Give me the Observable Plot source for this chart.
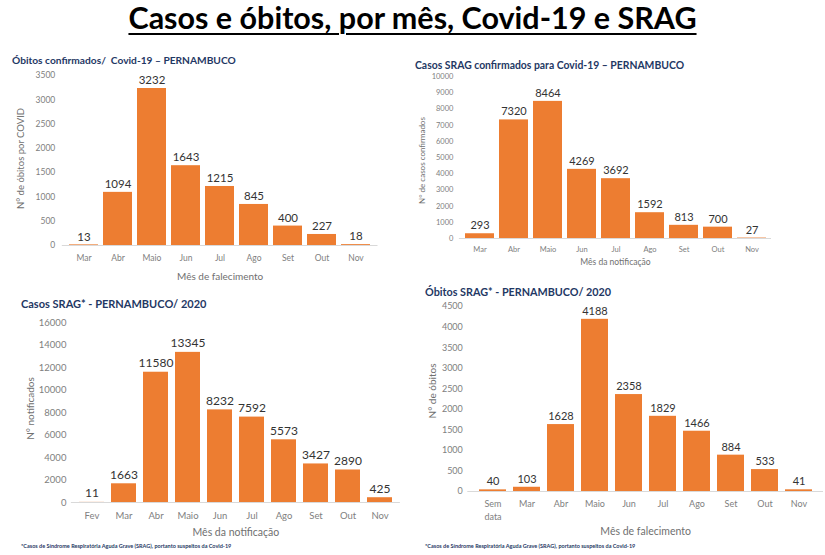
<!DOCTYPE html>
<html><head><meta charset="utf-8">
<script src="https://cdn.jsdelivr.net/npm/d3@7"></script>
<script src="https://cdn.jsdelivr.net/npm/@observablehq/plot@0.6"></script>
<style>
body{margin:0;background:#fff;font-family:Lato,"Open Sans",sans-serif;}
#page{position:relative;width:825px;height:555px;overflow:hidden;background:#fff;}
.box{position:absolute;}
.ptitle{position:absolute;font-weight:bold;color:#1F3864;white-space:nowrap;line-height:1;}
.foot{position:absolute;font-weight:bold;color:#1F3864;white-space:nowrap;font-size:5.5px;line-height:1;}
#main{position:absolute;left:0;width:825px;top:1px;text-align:center;font-weight:bold;font-size:30.5px;color:#000;text-decoration:underline;text-decoration-thickness:2px;text-underline-offset:4px;line-height:1.1;}
</style></head><body>
<div id="page">
  <div id="main">Casos e óbitos, por mês, Covid-19 e SRAG</div>
  <div class="ptitle" style="left:12px;top:55px;font-size:10.2px;">Óbitos confirmados/&nbsp; Covid-19 – PERNAMBUCO</div>
  <div class="ptitle" style="left:415px;top:60px;font-size:10.4px;">Casos SRAG confirmados para Covid-19 – PERNAMBUCO</div>
  <div class="ptitle" style="left:21px;top:298px;font-size:11px;">Casos SRAG* - PERNAMBUCO/ 2020</div>
  <div class="ptitle" style="left:425px;top:287px;font-size:10.8px;">Óbitos SRAG* - PERNAMBUCO/ 2020</div>
  <div class="foot" style="left:21px;top:544px;">*Casos de Síndrome Respiratória Aguda Grave (SRAG), portanto suspeitos da Covid-19</div>
  <div class="foot" style="left:425px;top:544px;">*Casos de Síndrome Respiratória Aguda Grave (SRAG), portanto suspeitos da Covid-19</div>
  <div class="box" id="c1" style="left:0;top:65px;"></div>
  <div class="box" id="c2" style="left:400px;top:70px;"></div>
  <div class="box" id="c3" style="left:0;top:310px;"></div>
  <div class="box" id="c4" style="left:400px;top:300px;"></div>
</div>
<script>
const months1 = ["Mar","Abr","Maio","Jun","Jul","Ago","Set","Out","Nov"];
const obitosCovid = [13,1094,3232,1643,1215,845,400,227,18];
const yTicks1 = [0,500,1000,1500,2000,2500,3000,3500];

const months2 = ["Mar","Abr","Maio","Jun","Jul","Ago","Set","Out","Nov"];
const casosSragCovid = [293,7320,8464,4269,3692,1592,813,700,27];
const yTicks2 = [0,1000,2000,3000,4000,5000,6000,7000,8000,9000,10000];

const months3 = ["Fev","Mar","Abr","Maio","Jun","Jul","Ago","Set","Out","Nov"];
const casosSrag = [11,1663,11580,13345,8232,7592,5573,3427,2890,425];
const yTicks3 = [0,2000,4000,6000,8000,10000,12000,14000,16000];

const months4 = ["Sem\ndata","Mar","Abr","Maio","Jun","Jul","Ago","Set","Out","Nov"];
const obitosSrag = [40,103,1628,4188,2358,1829,1466,884,533,41];
const yTicks4 = [0,500,1000,1500,2000,2500,3000,3500,4000,4500];

const ORANGE = "#ED7D31";

function chart(c) {
  const data = c.months.map((m, i) => ({m, v: c.values[i]}));
  const hasAxisMarks = typeof Plot.axisX === "function";
  const axes = hasAxisMarks ? [
    Plot.axisX({tickSize: 0, tickPadding: c.xPad, label: null, lineHeight: 1.4}),
    Plot.axisY({ticks: c.yTicks, tickFormat: d3.format("d"), tickSize: 0, tickPadding: c.yPad, label: null})
  ] : [];
  return Plot.plot({
    width: c.width, height: c.height,
    marginTop: c.mt, marginBottom: c.mb, marginLeft: c.ml, marginRight: c.mr,
    style: {fontFamily: "Lato, 'Open Sans', sans-serif", fontSize: c.tickFs + "px", color: "#808080", background: "transparent", overflow: "visible"},
    x: {domain: c.months, padding: c.pad, label: null, tickSize: 0, tickPadding: c.xPad},
    y: {domain: [0, c.max], ticks: c.yTicks, tickFormat: d3.format("d"), tickSize: 0, tickPadding: c.yPad, label: null},
    marks: [
      ...axes,
      Plot.barY(data, {x: "m", y: "v", fill: ORANGE}),
      Plot.ruleY([0], {stroke: "#d9d9d9", strokeWidth: 1}),
      Plot.text(data, {x: "m", y: "v", text: d => String(d.v), dy: -c.valDy, fill: "#333333", fontSize: c.valFs}),
      Plot.text([c.xTitle], {frameAnchor: "bottom", textAnchor: "middle", lineAnchor: "middle", dy: c.xTitleDy, fill: "#707070", fontSize: c.titleFs}),
      Plot.text([c.yTitle], {frameAnchor: "left", textAnchor: "middle", lineAnchor: "middle", rotate: -90, dx: c.yTitleDx, dy: c.yTitleDy || 0, fill: "#707070", fontSize: c.yTitleFs})
    ]
  });
}

document.getElementById("c1").appendChild(chart({
  months: months1, values: obitosCovid, yTicks: yTicks1, max: 3500,
  width: 400, height: 220, mt: 10, mb: 40, ml: 61.8, mr: 22.5, pad: 0.15,
  tickFs: 8.5, xPad: 7, yPad: 7, valFs: 11.5, valDy: 8,
  xTitle: "Mês de falecimento", xTitleDy: 31, titleFs: 10,
  yTitle: "N° de óbitos por COVID", yTitleDx: -41, yTitleDy: -2, yTitleFs: 9.5
}));

document.getElementById("c2").appendChild(chart({
  months: months2, values: casosSragCovid, yTicks: yTicks2, max: 10000,
  width: 425, height: 200, mt: 6, mb: 32, ml: 58.9, mr: 54, pad: 0.15,
  tickFs: 7.5, xPad: 6, yPad: 6, valFs: 11, valDy: 8,
  xTitle: "Mês da notificação", xTitleDy: 24, titleFs: 8.5,
  yTitle: "N° de casos confirmados", yTitleDx: -37, yTitleDy: 3, yTitleFs: 8
}));

document.getElementById("c3").appendChild(chart({
  months: months3, values: casosSrag, yTicks: yTicks3, max: 16000,
  width: 400, height: 240, mt: 12, mb: 48, ml: 70.9, mr: 0.1, pad: 0.22,
  tickFs: 9.5, xPad: 7, yPad: 5, valFs: 12, valDy: 9,
  xTitle: "Mês da notificação", xTitleDy: 30, titleFs: 10.5,
  yTitle: "N° notificados", yTitleDx: -41, yTitleDy: -4, yTitleFs: 10
}));

document.getElementById("c4").appendChild(chart({
  months: months4, values: obitosSrag, yTicks: yTicks4, max: 4500,
  width: 425, height: 240, mt: 6, mb: 49, ml: 67.3, mr: 2, pad: 0.22,
  tickFs: 9, xPad: 7, yPad: 5, valFs: 11, valDy: 8,
  xTitle: "Mês de falecimento", xTitleDy: 40, titleFs: 10.5,
  yTitle: "N° de óbitos", yTitleDx: -35, yTitleDy: -8, yTitleFs: 10
}));
</script>
</body></html>
